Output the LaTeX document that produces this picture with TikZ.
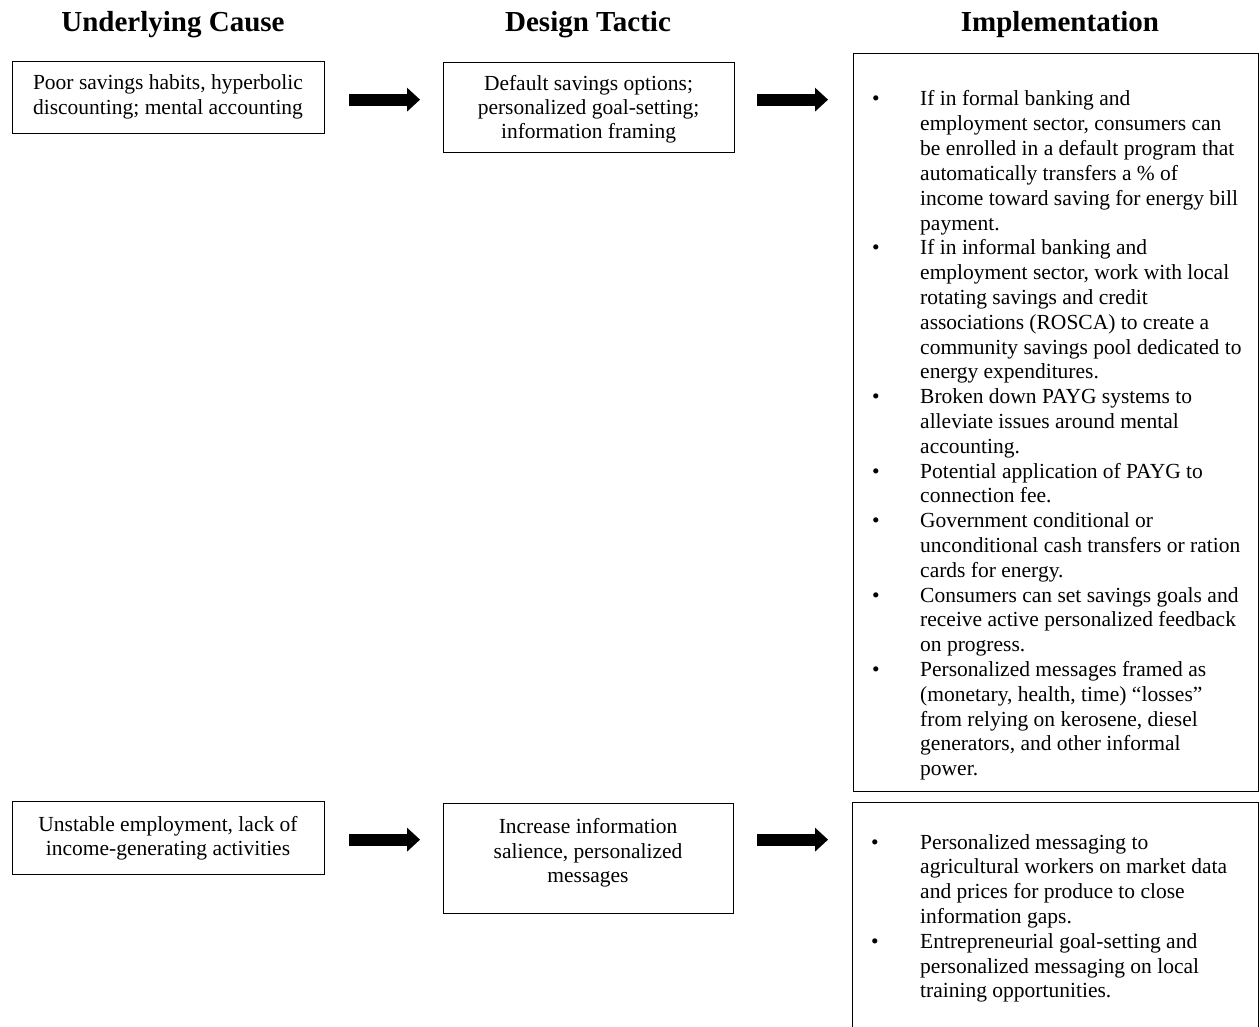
\documentclass[tikz,border=0pt]{standalone}
\usepackage{fontspec}
\setmainfont{Liberation Serif}
\usetikzlibrary{arrows.meta,calc}
\newcommand{\bodyfnt}{\fontsize{21.5}{24.8}\selectfont}
\newcommand{\hdrfnt}{\bfseries\fontsize{29}{34}\selectfont}
\tikzset{
  box/.style={draw, line width=1.3pt, rectangle, inner sep=0pt, anchor=north west},
  ln/.style={inner sep=0pt, anchor=base, font=\bodyfnt},
  lnl/.style={inner sep=0pt, anchor=base west, font=\bodyfnt},
  hdr/.style={inner sep=0pt, anchor=base, font=\hdrfnt},
  blockarrow/.style={line width=12pt, -{Triangle[width=24pt,length=13pt,line width=0pt]}}
}
\begin{document}
\begin{tikzpicture}[x=1pt,y=-1pt]
\useasboundingbox (0,0) rectangle (1260,1027);
\fill[white] (0,0) rectangle (1260,1027);

% headers
\node[hdr] (h1) at (173,32) {Underlying Cause};
\node[hdr] (h2) at (588,32) {Design Tactic};
\node[hdr] (h3) at (1060,32) {Implementation};

% boxes
\node[box, minimum width=312pt, minimum height=72pt] (c1) at (12,61) {};
\node[box, minimum width=291pt, minimum height=90pt] (t1) at (443,62) {};
\node[box, minimum width=405pt, minimum height=738pt] (i1) at (853,53) {};
\node[box, minimum width=312pt, minimum height=73pt] (c2) at (12,801) {};
\node[box, minimum width=290pt, minimum height=110pt] (t2) at (443,803) {};
\node[box, minimum width=406pt, minimum height=228pt] (i2) at (852,802) {};

% box texts
\node[ln] (c1a) at (168,90) {Poor savings habits, hyperbolic};
\node[ln] (c1b) at (168,115) {discounting; mental accounting};
\node[ln] (t1a) at (588.5,91) {Default savings options;};
\node[ln] (t1b) at (588.5,115) {personalized goal-setting;};
\node[ln] (t1c) at (588.5,139) {information framing};
\node[ln] (c2a) at (168,831) {Unstable employment, lack of};
\node[ln] (c2b) at (168,855) {income-generating activities};
\node[ln] (t2a) at (588,833) {Increase information};
\node[ln] (t2b) at (588,858) {salience, personalized};
\node[ln] (t2c) at (588,882) {messages};

% implementation 1
\foreach \t [count=\i] in {
  {If in formal banking and},
  {employment sector, consumers can},
  {be enrolled in a default program that},
  {automatically transfers a \% of},
  {income toward saving for energy bill},
  {payment.},
  {If in informal banking and},
  {employment sector, work with local},
  {rotating savings and credit},
  {associations (ROSCA) to create a},
  {community savings pool dedicated to},
  {energy expenditures.},
  {Broken down PAYG systems to},
  {alleviate issues around mental},
  {accounting.},
  {Potential application of PAYG to},
  {connection fee.},
  {Government conditional or},
  {unconditional cash transfers or ration},
  {cards for energy.},
  {Consumers can set savings goals and},
  {receive active personalized feedback},
  {on progress.},
  {Personalized messages framed as},
  {(monetary, health, time) “losses”},
  {from relying on kerosene, diesel},
  {generators, and other informal},
  {power.}}
  \node[lnl] (ia\i) at (920,{106+(\i-1)*24.8}) {\t};
\foreach \k in {1,7,13,16,18,21,24}
  \node[ln] (ib\k) at (876,{106+(\k-1)*24.8}) {•};

% implementation 2
\foreach \t [count=\i] in {
  {Personalized messaging to},
  {agricultural workers on market data},
  {and prices for produce to close},
  {information gaps.},
  {Entrepreneurial goal-setting and},
  {personalized messaging on local},
  {training opportunities.}}
  \node[lnl] (ja\i) at (920,{849+(\i-1)*24.8}) {\t};
\foreach \k in {1,5}
  \node[ln] (jb\k) at (875,{849+(\k-1)*24.8}) {•};

% arrows
\draw[blockarrow] ($(c1.east)+(24,2)$) -- ($(c1.east -| t1.west)+(-23,2)$);
\draw[blockarrow] ($(t1.east)+(22,-8)$) -- ($(t1.east -| i1.west)+(-25,-8)$);
\draw[blockarrow] ($(c2.east)+(24,1.5)$) -- ($(c2.east -| t2.west)+(-23,1.5)$);
\draw[blockarrow] ($(t2.east)+(23,-19)$) -- ($(t2.east -| i2.west)+(-24,-19)$);
\end{tikzpicture}
\end{document}
